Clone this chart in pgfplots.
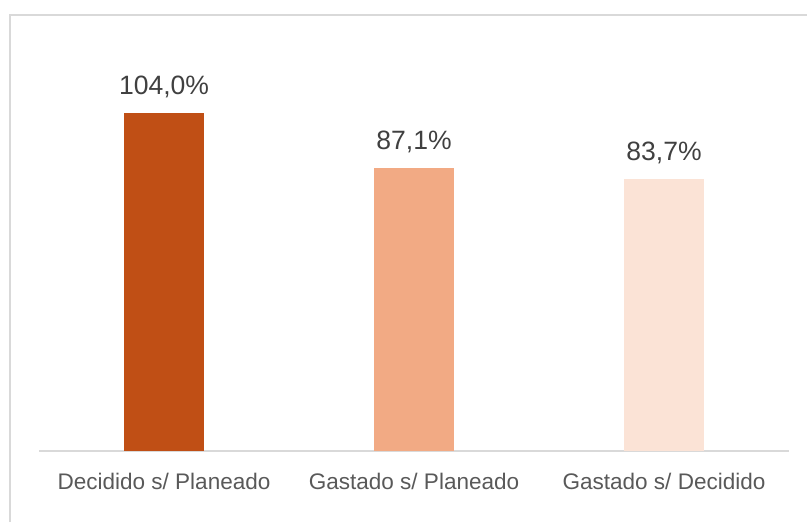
\documentclass[border=0pt]{standalone}
\usepackage{pgfplots}
\pgfplotsset{compat=1.18}
\usepackage{fontspec}
\setmainfont{Liberation Sans}
\definecolor{c1}{HTML}{C04F15}
\definecolor{c2}{HTML}{F2AA84}
\definecolor{c3}{HTML}{FBE3D6}
\definecolor{txt}{HTML}{595959}
\definecolor{txtd}{HTML}{404040}
\definecolor{gridc}{HTML}{D9D9D9}
\begin{document}
\begin{tikzpicture}
\path[use as bounding box] (0pt,0pt) rectangle (605.25pt,391.5pt);
\draw[gridc, line width=1.5pt] (7.125pt,0pt) -- (7.125pt,380.6pt) -- (605.25pt,380.6pt);
\begin{axis}[at={(29.25pt,53.25pt)}, anchor=south west, scale only axis,
  width=562.5pt, height=292.8pt,
  xmin=-0.5, xmax=2.5, ymin=0, ymax=120,
  ybar, bar width=60pt, bar shift=0pt,
  axis x line=bottom, axis y line=none,
  x axis line style={draw=gridc, line width=1pt, -},
  xtick={0,1,2},
  xticklabels={Decidido s/ Planeado, Gastado s/ Planeado, Gastado s/ Decidido},
  xtick style={draw=none}, major tick length=0pt,
  xticklabel style={font=\fontsize{16.9}{18}\selectfont, text=txt, anchor=base, yshift=-28.5pt},
  nodes near coords, point meta=explicit symbolic,
  every node near coord/.append style={font=\fontsize{19.9}{22}\selectfont, text=txtd, anchor=base, yshift=13.3pt},
  clip=false]
\addplot[fill=c1, draw=none] coordinates {(0,104.0) [{104,0\%}]};
\addplot[fill=c2, draw=none] coordinates {(1,87.1) [{87,1\%}]};
\addplot[fill=c3, draw=none] coordinates {(2,83.7) [{83,7\%}]};
\end{axis}
\end{tikzpicture}
\end{document}
